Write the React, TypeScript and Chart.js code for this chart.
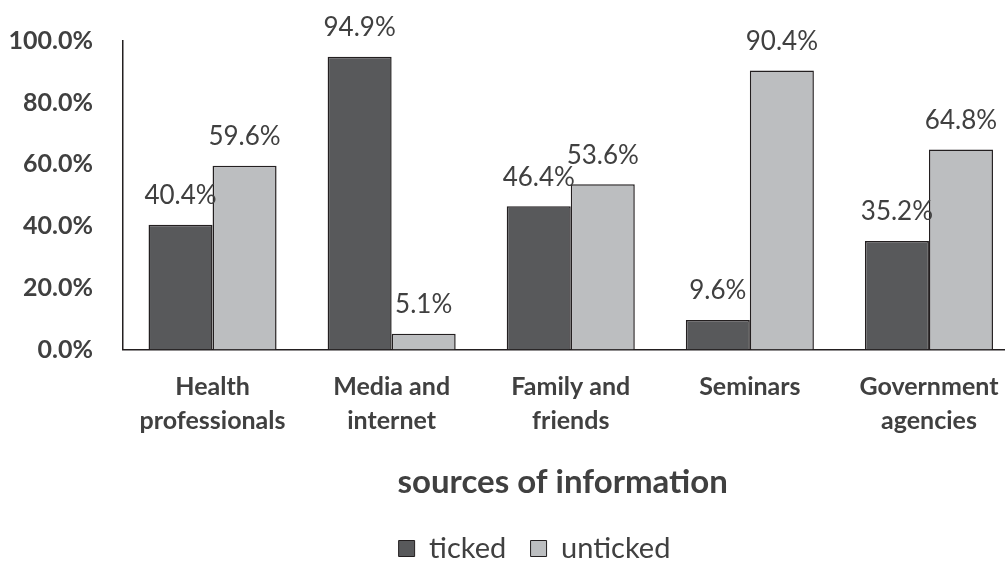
import React, { useEffect, useRef } from "react";
import { Chart, registerables } from "chart.js";

Chart.register(...registerables);

const categories: string[][] = [
  ["Health", "professionals"],
  ["Media and", "internet"],
  ["Family and", "friends"],
  ["Seminars"],
  ["Government", "agencies"],
];
const ticked: number[] = [40.4, 94.9, 46.4, 9.6, 35.2];
const unticked: number[] = [59.6, 5.1, 53.6, 90.4, 64.8];
const seriesNames: string[] = ["ticked", "unticked"];
const yTicks: number[] = [0, 20, 40, 60, 80, 100];
const axisTitle = "sources of information";

const FONT = "Lato";
const TEXT = "#404040";

const valueLabels = {
  id: "valueLabels",
  afterDatasetsDraw(chart: any) {
    const ctx = chart.ctx;
    ctx.save();
    ctx.font = `400 26px ${FONT}`;
    ctx.fillStyle = TEXT;
    ctx.textAlign = "center";
    ctx.textBaseline = "middle";
    chart.data.datasets.forEach((ds: any, di: number) => {
      const meta = chart.getDatasetMeta(di);
      meta.data.forEach((bar: any, i: number) => {
        const v = ds.data[i] as number;
        ctx.fillText(v.toFixed(1) + "%", bar.x, bar.y - 29);
      });
    });
    ctx.restore();
  },
};

export default function App() {
  const ref = useRef<HTMLCanvasElement>(null);
  useEffect(() => {
    if (!ref.current) return;
    const chart = new Chart(ref.current, {
      type: "bar",
      data: {
        labels: categories,
        datasets: [
          {
            label: seriesNames[0],
            data: ticked,
            backgroundColor: "#58595b",
            borderColor: "#231f20",
            borderWidth: 1.5,
          },
          {
            label: seriesNames[1],
            data: unticked,
            backgroundColor: "#bcbec0",
            borderColor: "#231f20",
            borderWidth: 1.5,
          },
        ],
      },
      options: {
        responsive: false,
        animation: false,
        layout: { padding: { top: 41, left: 0, right: 0, bottom: -8 } },
        datasets: {
          bar: { categoryPercentage: 0.715, barPercentage: 1.0 },
        },
        scales: {
          x: {
            grid: { display: false, drawTicks: false },
            border: { display: true, color: "#231f20", width: 1.5 },
            afterFit: (scale: any) => {
              scale.height = 182.5;
            },
            ticks: {
              color: TEXT,
              font: { family: FONT, size: 25, weight: "bold", lineHeight: 1.36 },
              padding: 20,
              maxRotation: 0,
              autoSkip: false,
            },
            title: {
              display: true,
              text: axisTitle + "  ",
              color: TEXT,
              font: { family: FONT, size: 33, weight: "bold", lineHeight: 1.2 },
              padding: { top: 10, bottom: 30 },
            },
          },
          y: {
            min: 0,
            max: 100,
            afterBuildTicks: (scale: any) => {
              scale.ticks = yTicks.map((v) => ({ value: v }));
            },
            afterFit: (scale: any) => {
              scale.width = 123;
            },
            grid: { display: false, drawTicks: true, tickLength: 30 },
            border: { display: true, color: "#231f20", width: 1.5 },
            ticks: {
              color: TEXT,
              font: { family: FONT, size: 25, weight: "bold" },
              padding: 0,
              callback: (v: any) => Number(v).toFixed(1) + "%",
            },
          },
          spacer: {
            position: "right",
            display: true,
            grid: { display: false, drawTicks: false },
            border: { display: false },
            ticks: { display: false },
            afterFit: (scale: any) => {
              scale.width = 50.5;
            },
          },
        },
        plugins: {
          legend: {
            position: "bottom",
            labels: {
              color: TEXT,
              boxWidth: 16,
              boxHeight: 16,
              padding: 2,
              font: { family: FONT, size: 29 },
              generateLabels: (c: any) => {
                const items = Chart.defaults.plugins.legend.labels.generateLabels(c);
                return items.map((it: any, i: number) => ({
                  ...it,
                  text: i < items.length - 1 ? it.text + "   " : it.text,
                  lineWidth: 1,
                  strokeStyle: "#231f20",
                }));
              },
            },
          },
          tooltip: { enabled: false },
        },
      },
      plugins: [valueLabels],
    });
    return () => chart.destroy();
  }, []);
  return (
    <div
      style={{
        position: "absolute",
        left: 0,
        top: 0,
        width: 1005,
        height: 565,
        overflow: "hidden",
        background: "#fff",
      }}
    >
      <canvas ref={ref} width={1069} height={565} style={{ display: "block" }} />
    </div>
  );
}
